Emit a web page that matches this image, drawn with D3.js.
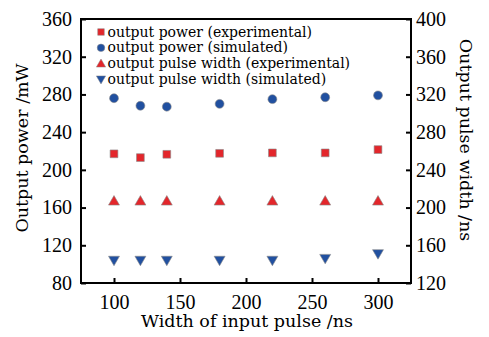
<!DOCTYPE html>
<html><head><meta charset="utf-8">
<script src="https://cdn.jsdelivr.net/npm/d3@7"></script>
<style>body{margin:0;background:#fff}svg{display:block}</style>
</head><body>
<script>
const widths = [100, 120, 140, 180, 220, 260, 300];
const powerExp = [217, 213, 216.5, 217.5, 218, 218, 221.5];
const powerSim = [276, 268, 267, 270, 275, 277, 279];
const pulseExp = [206, 206, 206, 206, 206, 206, 206];
const pulseSim = [145, 145, 145, 145, 145, 147, 152];
const xTicks = [100, 150, 200, 250, 300];
const yLeftTicks = [80, 120, 160, 200, 240, 280, 320, 360];
const yRightTicks = [120, 160, 200, 240, 280, 320, 360, 400];
const legendLabels = ["output power (experimental)", "output power (simulated)", "output pulse width (experimental)", "output pulse width (simulated)"];

const W = 489, H = 337;
const m = {left: 81, right: 78, top: 19, bottom: 54};
const red = "#e3262b", blue = "#2150a0";
const txtFont = "DejaVu Serif", numFont = "Liberation Serif";

const svg = d3.select("body").append("svg").attr("width", W).attr("height", H);
const x = d3.scaleLinear().domain([75, 325]).range([m.left, W - m.right]);
const yL = d3.scaleLinear().domain([80, 360]).range([H - m.bottom, m.top]);
const yR = d3.scaleLinear().domain([120, 400]).range([H - m.bottom, m.top]);

// frame
svg.append("rect").attr("x", m.left).attr("y", m.top)
  .attr("width", W - m.left - m.right).attr("height", H - m.top - m.bottom)
  .attr("fill", "none").attr("stroke", "#000").attr("stroke-width", 2);

function styleAxis(g, sz) {
  g.select(".domain").remove();
  g.selectAll(".tick line").attr("stroke", "#000").attr("stroke-width", 2);
  g.selectAll(".tick text").attr("font-family", numFont).attr("font-size", sz).attr("fill", "#000");
}
const gx = svg.append("g").attr("transform", `translate(0,${H - m.bottom})`)
  .call(d3.axisBottom(x).tickValues(xTicks).tickSize(-5).tickPadding(12));
styleAxis(gx, 20);
const gl = svg.append("g").attr("transform", `translate(${m.left},0)`)
  .call(d3.axisLeft(yL).tickValues(yLeftTicks).tickSize(-5).tickPadding(9));
styleAxis(gl, 20);
const gr = svg.append("g").attr("transform", `translate(${W - m.right},0)`)
  .call(d3.axisRight(yR).tickValues(yRightTicks).tickSize(-5).tickPadding(5));
styleAxis(gr, 20);

// axis titles
svg.append("text").attr("x", (m.left + W - m.right) / 2 + 1).attr("y", 327)
  .attr("text-anchor", "middle").attr("font-family", txtFont).attr("font-size", 17.5).text("Width of input pulse /ns");
svg.append("text").attr("transform", `translate(28,${(m.top + H - m.bottom) / 2 - 3}) rotate(-90)`)
  .attr("text-anchor", "middle").attr("font-family", txtFont).attr("font-size", 17.5).text("Output power /mW");
svg.append("text").attr("transform", `translate(460,${(m.top + H - m.bottom) / 2 - 11}) rotate(90)`)
  .attr("text-anchor", "middle").attr("font-family", txtFont).attr("font-size", 17.5).text("Output pulse width /ns");

function makeSyms(s) {
  return {
    square: d3.symbol().type(d3.symbolSquare).size(60 * s)(),
    circle: d3.symbol().type(d3.symbolCircle).size(62 * s)(),
    up: d3.symbol().type(d3.symbolTriangle).size(52 * s)(),
  };
}
const sym = makeSyms(1);
function drawSeries(vals, scale, path, color, rot) {
  svg.append("g").selectAll("path").data(widths).join("path")
    .attr("d", path)
    .attr("transform", (d, i) => `translate(${x(d)},${scale(vals[i])}) rotate(${rot})`)
    .attr("fill", color).attr("stroke", "#8a8a8a").attr("stroke-width", 0.6);
}
drawSeries(powerExp, yL, sym.square, red, 0);
drawSeries(powerSim, yL, sym.circle, blue, 0);
drawSeries(pulseExp, yR, sym.up, red, 0);
drawSeries(pulseSim, yR, sym.up, blue, 180);

// legend
const ls = makeSyms(0.72);
const legSyms = [[ls.square, red, 0], [ls.circle, blue, 0], [ls.up, red, 0], [ls.up, blue, 180]];
const leg = svg.append("g");
legendLabels.forEach((t, i) => {
  const cy = 32 + i * 15.8;
  leg.append("path").attr("d", legSyms[i][0])
    .attr("transform", `translate(101,${cy + (i === 2 ? 0.8 : i === 3 ? -0.8 : 0)}) rotate(${legSyms[i][2]})`)
    .attr("fill", legSyms[i][1]).attr("stroke", "#8a8a8a").attr("stroke-width", 0.5);
  leg.append("text").attr("x", 107.5).attr("y", cy + 4.5)
    .attr("font-family", txtFont).attr("font-size", 14).text(t);
});
</script>
</body></html>
